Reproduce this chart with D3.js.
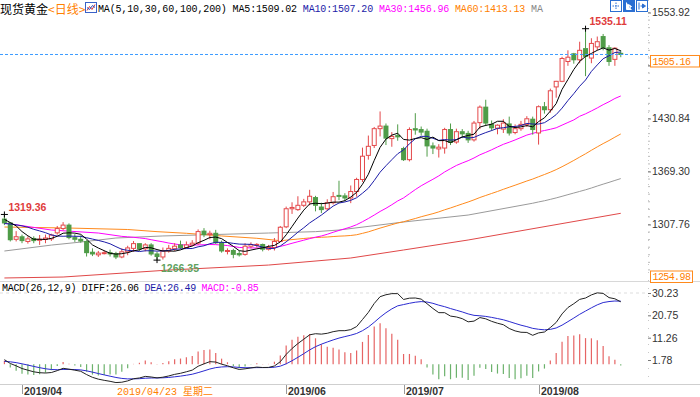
<!DOCTYPE html>
<html lang="zh-CN">
<head>
<meta charset="UTF-8">
<style>
  html, body { margin: 0; padding: 0; background: #fff; }
  svg { display: block; }
  .axis text { font: 10.5px "Liberation Sans", Arial, sans-serif; fill: #333; }
  .axis line { stroke: #777; }
  .axis path { display: none; }
  .mono { font-family: "Liberation Mono", "Noto Sans CJK SC", monospace; font-size: 10px; }
</style>
</head>
<body>
<script src="https://cdn.jsdelivr.net/npm/d3@7/dist/d3.min.js"></script>
<script>
// trading days in view
var tradingDays = {
  "2019-03": [27, 28, 29],
  "2019-04": [1, 2, 3, 4, 5, 8, 9, 10, 11, 12, 15, 16, 17, 18, 19, 22, 23, 24, 25, 26, 29, 30],
  "2019-05": [1, 2, 3, 6, 7, 8, 9, 10, 13, 14, 15, 16, 17, 20, 21, 22, 23, 24, 27, 28, 29, 30, 31],
  "2019-06": [3, 4, 5, 6, 7, 10, 11, 12, 13, 14, 17, 18, 19, 20, 21, 24, 25, 26, 27, 28],
  "2019-07": [1, 2, 3, 4, 5, 8, 9, 10, 11, 12, 15, 16, 17, 18, 19, 22, 23, 24, 25, 26, 29, 30, 31],
  "2019-08": [1, 2, 5, 6, 7, 8, 9, 12, 13, 14, 15, 16, 19, 20, 21]
};
var dates = [];
Object.keys(tradingDays).forEach(function(m) {
  tradingDays[m].forEach(function(d) { dates.push(m + "-" + (d < 10 ? "0" + d : d)); });
});

// open, high, low, close
var ohlc = [
  [1314, 1319.36, 1307, 1309.5], [1309.5, 1310, 1288, 1290], [1290.5, 1300, 1288, 1293.5],
  [1293.5, 1296, 1286, 1289], [1288, 1294, 1285.5, 1291], [1291.5, 1294, 1286, 1289],
  [1289.5, 1295.5, 1284, 1290.5], [1290.5, 1296, 1286, 1292], [1291, 1297, 1288.6, 1295.5],
  [1298, 1306, 1296, 1303], [1303, 1310.5, 1301, 1307], [1307, 1309, 1290.5, 1292.5],
  [1292.5, 1296.5, 1287.5, 1290.5], [1290.5, 1295, 1286.5, 1288.5], [1288, 1289.5, 1270.5, 1275],
  [1275.5, 1280, 1271, 1273.5], [1272.5, 1277, 1270, 1274.5], [1274.5, 1277.5, 1273, 1275],
  [1275, 1278.5, 1270.5, 1273.5], [1274, 1276, 1267.5, 1270], [1270, 1280, 1268.5, 1276],
  [1276, 1283, 1272, 1280.5], [1280, 1288.5, 1276, 1285.5], [1285.5, 1286, 1277, 1279.5],
  [1279.5, 1286, 1276.5, 1284], [1284, 1286, 1271.5, 1273.5], [1273.5, 1276, 1266.35, 1270.5],
  [1270, 1281, 1267, 1277], [1277, 1284, 1275, 1280], [1279.5, 1286, 1277, 1282.5],
  [1284, 1289, 1279.5, 1281], [1281, 1288, 1279.5, 1284], [1284, 1289.5, 1282.5, 1286],
  [1286, 1302, 1284, 1299.5], [1300, 1303.5, 1293, 1296], [1296, 1300.5, 1290.5, 1297.5],
  [1297.5, 1301.5, 1285, 1286.5], [1286.5, 1289, 1275, 1277], [1276.5, 1280, 1273, 1277.5],
  [1277.5, 1279.5, 1268.5, 1273], [1274, 1277, 1270.5, 1272.5], [1273, 1286, 1271.5, 1282.5],
  [1282.5, 1287, 1280, 1284.5], [1284.5, 1286, 1281, 1284.6], [1284.5, 1285.5, 1276.5, 1279],
  [1279, 1284, 1277.5, 1281], [1281, 1292, 1277.5, 1288], [1288, 1306, 1287.5, 1304.5],
  [1305, 1328.5, 1303.5, 1326], [1326, 1333.5, 1320, 1327.5], [1325, 1340.5, 1323.5, 1330],
  [1330, 1337.5, 1328, 1334], [1334, 1348, 1330, 1340.5], [1339, 1341, 1323, 1330],
  [1328, 1333, 1321, 1325], [1326, 1337, 1323.5, 1333], [1333, 1345.5, 1331, 1340],
  [1341.5, 1358.5, 1336, 1340.5], [1341, 1344, 1335, 1338.5], [1338.5, 1353, 1332.5, 1346],
  [1346, 1362, 1340, 1360], [1360, 1397, 1357, 1387], [1388, 1411, 1383, 1398.5],
  [1399.5, 1421, 1396.5, 1419], [1419, 1439, 1410, 1422], [1422, 1425, 1400, 1408],
  [1407.5, 1415, 1398, 1410], [1411, 1424, 1405, 1409.5], [1396, 1398, 1381.5, 1383],
  [1383, 1420.5, 1381, 1418], [1419, 1437, 1412, 1417.5], [1418, 1421.5, 1411, 1415],
  [1416, 1419, 1386.5, 1399], [1399, 1403, 1389.5, 1396.5], [1395.5, 1401, 1385.5, 1397.5],
  [1396.5, 1420, 1390, 1418], [1418, 1425, 1400, 1403], [1403.5, 1419, 1401.5, 1415.5],
  [1415.5, 1418.5, 1408, 1413], [1413.5, 1416.5, 1402.5, 1406], [1406, 1428, 1404, 1425.5],
  [1426, 1446, 1418.5, 1444], [1444, 1452.6, 1422, 1425.5], [1424, 1428.5, 1416.5, 1420],
  [1419.5, 1424, 1412.5, 1423], [1418.5, 1430, 1414, 1425.5], [1424.5, 1433, 1411, 1414],
  [1414.5, 1424, 1412.5, 1419], [1419, 1428, 1416.5, 1424], [1424, 1433.5, 1421, 1430.5],
  [1430, 1433, 1412, 1418], [1414, 1446, 1400.5, 1444.5], [1444.5, 1450, 1436.5, 1441],
  [1441, 1465.5, 1437.5, 1463], [1467.5, 1474.5, 1455, 1474], [1474, 1502.5, 1473, 1500.5],
  [1497, 1510, 1492, 1502], [1506, 1507, 1494.5, 1499], [1499, 1520, 1495, 1510],
  [1512, 1535.11, 1480, 1503], [1501, 1524, 1495, 1518], [1514, 1526, 1510, 1520],
  [1526, 1529, 1510, 1513], [1513, 1516, 1492, 1497], [1499.5, 1513.5, 1492, 1512.5],
  [1506.5, 1510, 1502, 1505.16]
];

// closes before the first bar, for the moving averages
var priorCloses = [1295.5, 1302.5, 1301.5, 1306.5, 1313.5, 1309, 1312.5, 1322, 1315.5];

var ma30Early = [["2019-03-27", 1309.4], ["2019-04-08", 1301.3], ["2019-04-18", 1297.8]];
var ma60Early = [["2019-03-27", 1304.8], ["2019-04-11", 1303.6], ["2019-04-25", 1301.9], ["2019-05-02", 1299.4],
  ["2019-05-09", 1297.5], ["2019-05-17", 1294.4], ["2019-05-27", 1291.7], ["2019-05-31", 1288.9]];
var ma100Early = [["2019-03-27", 1276.9], ["2019-04-08", 1283.8], ["2019-04-15", 1287.3], ["2019-04-23", 1292.0],
  ["2019-05-03", 1294.4], ["2019-05-13", 1295.5], ["2019-05-29", 1297.8], ["2019-06-10", 1299.4],
  ["2019-06-14", 1301.3], ["2019-07-01", 1310.6], ["2019-07-16", 1318.7]];
var ma200Early = [["2019-03-27", 1245.6], ["2019-04-10", 1246.7], ["2019-05-06", 1254.8], ["2019-05-29", 1260.6],
  ["2019-06-18", 1268.8], ["2019-07-01", 1278.1], ["2019-07-16", 1289.7], ["2019-08-21", 1320.7]];

// EMA state on the day before the first bar
var macdSeed = { ema12: 1308.5, ema26: 1306.5, dea: 1.0 };

var priceTicks = [1553.92, 1492.38, 1430.84, 1369.30, 1307.76];
var priceBottom = 1254.98, lastPrice = 1505.16;
var macdTicks = [30.23, 20.75, 11.26, 1.78];
var monthTicks = [["2019-04-01", "2019/04"], ["2019-06-03", "2019/06"],
  ["2019-07-01", "2019/07"], ["2019-08-01", "2019/08"]];
var maLegend = [["MA5:1509.02", "#000"], ["MA10:1507.20", "#1c1ca8"], ["MA30:1456.96", "#ff00ff"],
  ["MA60:1413.13", "#ff8000"], ["MA", "#888"]];
var macdLegend = [["MACD(26,12,9) DIFF:26.06", "#000"], ["DEA:26.49", "#1c1ca8"], ["MACD:-0.85", "#ff00ff"]];
var cursorLabel = "2019/04/23 星期二";

var W = 700, H = 397, plotR = 648;
var up = "#e4484a", down = "#4f9c48";

var svg = d3.select("body").append("svg").attr("width", W).attr("height", H);
var defs = svg.append("defs");
defs.append("clipPath").attr("id", "mainClip").append("rect").attr("x", 0).attr("y", 14).attr("width", plotR).attr("height", 266);
defs.append("clipPath").attr("id", "macdClip").append("rect").attr("x", 0).attr("y", 283).attr("width", plotR).attr("height", 100);

var x = d3.scaleBand().domain(dates).range([1.47, 1.47 + 5.87 * dates.length]);
function cx(d) { return x(d) + x.bandwidth() / 2; }
var y = d3.scaleLinear().domain([priceBottom, 1553.92]).range([269.9, 12.5]);
var ym = d3.scaleLinear().domain([1.78, 30.23]).range([360, 293]);

// frame lines
svg.append("line").attr("x1", 0).attr("x2", W).attr("y1", 281.5).attr("y2", 281.5).attr("stroke", "#d8d8d8");
svg.append("line").attr("x1", 0).attr("x2", W).attr("y1", 384.5).attr("y2", 384.5).attr("stroke", "#cfcfcf");
svg.append("line").attr("x1", plotR + 0.5).attr("x2", plotR + 0.5).attr("y1", 0).attr("y2", 384)
  .attr("stroke", "#c8c8c8").attr("stroke-dasharray", "1,7");

// main panel
var main = svg.append("g").attr("clip-path", "url(#mainClip)");

svg.append("line").attr("x1", 0).attr("x2", plotR).attr("y1", y(lastPrice)).attr("y2", y(lastPrice))
  .attr("stroke", "#3d9bff").attr("stroke-dasharray", "3,2");

var closes = ohlc.map(function(d) { return d[3]; });
var allCloses = priorCloses.concat(closes);
var np = priorCloses.length;

function sma(period) {
  return dates.map(function(d, i) {
    var k = i + np;
    if (k + 1 < period) return null;
    return d3.mean(allCloses.slice(k + 1 - period, k + 1));
  });
}
function maPoints(period, early) {
  var vals = sma(period);
  var first = vals.findIndex(function(v) { return v != null; });
  if (first < 0) first = dates.length;
  var pts = (early || []).map(function(k) { return [dates.indexOf(k[0]), k[1]]; })
    .filter(function(p) { return p[0] < first; });
  for (var i = first; i < dates.length; i++) pts.push([i, vals[i]]);
  return pts;
}
var maLine = d3.line().x(function(p) { return cx(dates[p[0]]); }).y(function(p) { return y(p[1]); });

var maSpecs = [
  [200, ma200Early, "#e04848"], [100, ma100Early, "#9a9a9a"], [60, ma60Early, "#ff8a1c"],
  [30, ma30Early, "#ff00ff"]
];
maSpecs.forEach(function(s) {
  main.append("path").attr("d", maLine(maPoints(s[0], s[1]))).attr("fill", "none")
    .attr("stroke", s[2]).attr("stroke-width", 1);
});

// candles
var bars = main.selectAll("g.k").data(ohlc).enter().append("g").attr("class", "k");
bars.each(function(d, i) {
  var g = d3.select(this), c = cx(dates[i]);
  var o = d[0], h = d[1], l = d[2], cl = d[3];
  var isUp = cl >= o, col = isUp ? up : down;
  var top = y(Math.max(o, cl)), bot = y(Math.min(o, cl));
  if (bot - top < 1) bot = top + 1;
  g.append("line").attr("x1", c).attr("x2", c).attr("y1", y(h)).attr("y2", top).attr("stroke", col);
  g.append("line").attr("x1", c).attr("x2", c).attr("y1", bot).attr("y2", y(l)).attr("stroke", col);
  if (isUp) {
    g.append("rect").attr("x", c - 2).attr("y", top).attr("width", 4).attr("height", bot - top)
      .attr("fill", "#fff").attr("stroke", col);
  } else {
    g.append("rect").attr("x", c - 2.5).attr("y", top - 0.5).attr("width", 5).attr("height", bot - top + 1)
      .attr("fill", col);
  }
});

main.append("path").attr("d", maLine(maPoints(10))).attr("fill", "none").attr("stroke", "#1c1ca8");
main.append("path").attr("d", maLine(maPoints(5))).attr("fill", "none").attr("stroke", "#000");

// high / low marks
var iMax = d3.maxIndex(ohlc, function(d) { return d[1]; });
var iMin = d3.minIndex(ohlc, function(d) { return d[2]; });
var marks = [[0, ohlc[0][1], "high"], [iMax, ohlc[iMax][1], "high"], [iMin, ohlc[iMin][2], "low"]];
marks.forEach(function(m) {
  var c = cx(dates[m[0]]), yy = y(m[1]);
  svg.append("path").attr("d", "M" + (c - 3.5) + "," + yy + "H" + (c + 3.5) + "M" + c + "," + (yy - 3) + "V" + (yy + 3))
    .attr("stroke", "#000").attr("fill", "none");
  svg.append("text").attr("x", c + 4).attr("y", m[2] === "high" ? yy - 3.5 : yy + 12)
    .attr("fill", m[2] === "high" ? "#e03c3c" : "#5fa25f")
    .style("font", "bold 10.5px 'Liberation Sans', Arial, sans-serif")
    .text(m[1].toFixed(2));
});

// right price axis (the label under the last-price box is covered in the original)
var minorTicks = d3.range(priceBottom, 1560, 61.54 / 7);
svg.append("g").selectAll("line").data(minorTicks).enter().append("line")
  .attr("x1", plotR).attr("x2", plotR + 2).attr("y1", function(d) { return y(d); }).attr("y2", function(d) { return y(d); })
  .attr("stroke", "#bbb");
svg.append("g").attr("class", "axis").attr("transform", "translate(" + plotR + ",0)")
  .call(d3.axisRight(y).tickValues(priceTicks).tickSize(3).tickPadding(1)
    .tickFormat(function(d) { return Math.abs(y(d) - y(lastPrice)) < 14 ? "" : d3.format(".2f")(d); }));

function priceBox(v, yy, w) {
  svg.append("rect").attr("x", 650.5).attr("y", yy - 5.5).attr("width", w).attr("height", 11.5)
    .attr("fill", "#fff").attr("stroke", "#ff8a1c");
  svg.append("text").attr("class", "mono").attr("x", 652.5).attr("y", yy + 3.8).attr("fill", "#ff8000")
    .style("letter-spacing", "-0.6px").text(v.toFixed(2));
}
priceBox(lastPrice, y(lastPrice) + 6.5, 49);
priceBox(priceBottom, 276.5, 42);

// MACD panel
var e12 = macdSeed.ema12, e26 = macdSeed.ema26, dea = macdSeed.dea;
var macd = closes.map(function(c) {
  e12 += (c - e12) * 2 / 13;
  e26 += (c - e26) * 2 / 27;
  var diff = e12 - e26;
  dea += (diff - dea) * 2 / 10;
  return { diff: diff, dea: dea, bar: 2 * (diff - dea) };
});

svg.append("line").attr("x1", 0).attr("x2", plotR).attr("y1", ym(30.23)).attr("y2", ym(30.23))
  .attr("stroke", "#ddd").attr("stroke-dasharray", "3,3");

var mp = svg.append("g").attr("clip-path", "url(#macdClip)");
mp.selectAll("line.h").data(macd).enter().append("line").attr("class", "h")
  .attr("x1", function(d, i) { return cx(dates[i]); }).attr("x2", function(d, i) { return cx(dates[i]); })
  .attr("y1", ym(0)).attr("y2", function(d) { return ym(d.bar); })
  .attr("stroke", function(d) { return d.bar >= 0 ? "#e66464" : "#6cb26c"; }).attr("stroke-width", 1.2);
var dl = d3.line().x(function(d, i) { return cx(dates[i]); });
mp.append("path").attr("d", dl.y(function(d) { return ym(d.dea); })(macd)).attr("fill", "none").attr("stroke", "#2a2ad0");
mp.append("path").attr("d", dl.y(function(d) { return ym(d.diff); })(macd)).attr("fill", "none").attr("stroke", "#222");

svg.append("g").attr("class", "axis").attr("transform", "translate(" + plotR + ",0)")
  .call(d3.axisRight(ym).tickValues(macdTicks).tickSize(3).tickPadding(1).tickFormat(d3.format(".2f")));

// date axis
var mt = svg.append("g");
monthTicks.forEach(function(m) {
  var xx = Math.round(cx(m[0])) + 0.5;
  mt.append("line").attr("x1", xx).attr("x2", xx).attr("y1", 385).attr("y2", 394).attr("stroke", "#999");
  mt.append("text").attr("x", xx + 1.5).attr("y", 395).attr("fill", "#333")
    .style("font", "bold 10.5px 'Liberation Sans', Arial, sans-serif").text(m[1]);
});
svg.append("text").attr("class", "mono").attr("x", 117).attr("y", 395).attr("fill", "#ff8000").text(cursorLabel);

// headers
var head = svg.append("text").attr("y", 13.5).style("font", "12px 'Noto Sans CJK SC', sans-serif");
head.append("tspan").attr("x", 0).attr("fill", "#000").text("现货黄金");
head.append("tspan").attr("fill", "#ff8000").text("<日线>");

var ic = svg.append("g").attr("transform", "translate(85.5,2.5)");
ic.append("rect").attr("width", 11).attr("height", 10).attr("fill", "#fff").attr("stroke", "#3a62c8");
ic.append("path").attr("d", "M1.5,8 L4,4 L6.5,7 L9.5,2").attr("fill", "none").attr("stroke", "#d33");
ic.append("path").attr("d", "M1.5,5 L4,7 L7,3 L9.5,5").attr("fill", "none").attr("stroke", "#2a4fc0");

var t1 = svg.append("text").attr("class", "mono").attr("x", 98).attr("y", 12).style("letter-spacing", "-0.15px");
t1.append("tspan").attr("fill", "#000").text("MA(5,10,30,60,100,200) ");
maLegend.forEach(function(m, i) {
  t1.append("tspan").attr("fill", m[1]).text(m[0] + (i < maLegend.length - 1 ? " " : ""));
});

var t2 = svg.append("text").attr("class", "mono").attr("x", 2).attr("y", 291).style("letter-spacing", "-0.3px");
macdLegend.forEach(function(m, i) {
  t2.append("tspan").attr("fill", m[1]).text(m[0] + (i < macdLegend.length - 1 ? " " : ""));
});

// toolbar icons
var tb = svg.append("g").attr("transform", "translate(610.5,0.5)");
[0, 13, 26].forEach(function(dx, i) {
  var g = tb.append("g").attr("transform", "translate(" + dx + ",0)");
  g.append("rect").attr("width", 11).attr("height", 11).attr("fill", i === 1 ? "#2b6fd2" : "#fff").attr("stroke", "#2b6fd2");
  if (i === 0) {
    g.append("path").attr("d", "M5.5,2V9M2,5.5H9").attr("stroke", "#2b6fd2").attr("stroke-dasharray", "1.5,1");
  } else if (i === 1) {
    g.append("path").attr("d", "M3,2V9H8M5,4L8,6L5,8Z").attr("stroke", "#fff").attr("fill", "#fff");
  } else {
    g.append("path").attr("d", "M2.5,2V9M4,5.5H7M6,3.5L9,5.5L6,7.5Z").attr("stroke", "#2b6fd2").attr("fill", "#2b6fd2");
  }
});
</script>
</body>
</html>
